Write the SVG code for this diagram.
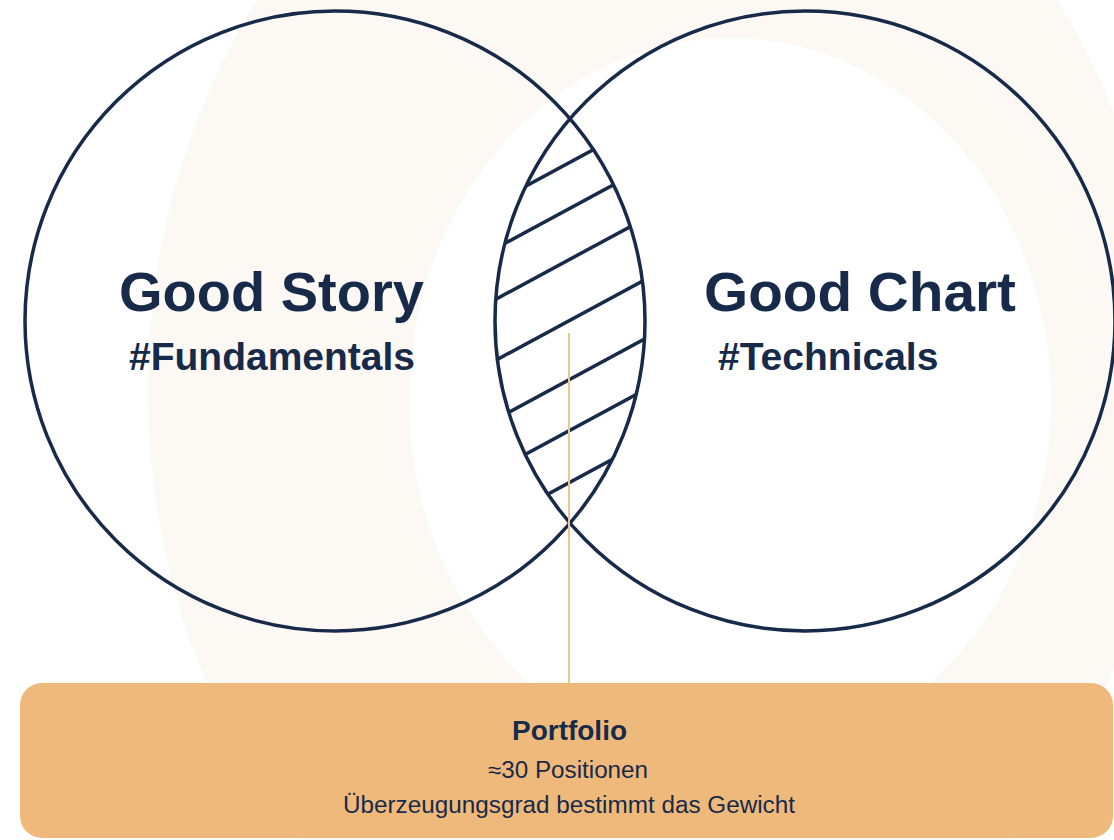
<svg xmlns="http://www.w3.org/2000/svg" width="1114" height="840" viewBox="0 0 1114 840">
  <defs>
    <style>
      .ring { fill: none; stroke: #172a4a; stroke-width: 3.5; }
      .hatch { stroke: #172a4a; stroke-width: 3.5; fill: none; }
      .title { font-family: "Liberation Sans", Arial, sans-serif; font-weight: bold; font-size: 56px; fill: #172a4a; }
      .tag { font-family: "Liberation Sans", Arial, sans-serif; font-weight: bold; font-size: 39px; fill: #172a4a; }
      .boxhead { font-family: "Liberation Sans", Arial, sans-serif; font-weight: bold; font-size: 27px; fill: #172a4a; text-anchor: middle; }
      .boxtext { font-family: "Liberation Sans", Arial, sans-serif; font-size: 23px; fill: #172a4a; text-anchor: middle; }
    </style>
    <clipPath id="clipL"><circle cx="335" cy="321" r="310"/></clipPath>
    <clipPath id="clipR"><circle cx="805" cy="321" r="310"/></clipPath>
  </defs>

  <rect x="0" y="0" width="1114" height="840" fill="#ffffff"/>

  <g id="background">
    <ellipse cx="657" cy="390" rx="509" ry="630" fill="#fcf8f4"/>
    <ellipse cx="730" cy="400" rx="321" ry="362" fill="#ffffff"/>
  </g>

  <g id="intersection">
    <g clip-path="url(#clipL)">
      <g clip-path="url(#clipR)">
        <line class="hatch" x1="480" y1="210.8" x2="660" y2="113.6"/>
        <line class="hatch" x1="480" y1="256.8" x2="660" y2="159.6"/>
        <line class="hatch" x1="480" y1="307.8" x2="660" y2="210.6"/>
        <line class="hatch" x1="480" y1="368.8" x2="660" y2="271.6"/>
        <line class="hatch" x1="480" y1="427.8" x2="660" y2="330.6"/>
        <line class="hatch" x1="480" y1="478.8" x2="660" y2="381.6"/>
        <line class="hatch" x1="480" y1="530.8" x2="660" y2="433.6"/>
      </g>
    </g>
  </g>

  <g id="node-good-story">
    <circle class="ring" cx="335" cy="321" r="310"/>
    <text class="title" x="119" y="311">Good Story</text>
    <text class="tag" x="129" y="370">#Fundamentals</text>
  </g>

  <g id="node-good-chart">
    <circle class="ring" cx="805" cy="321" r="310"/>
    <text class="title" x="704" y="311" textLength="312" lengthAdjust="spacingAndGlyphs">Good Chart</text>
    <text class="tag" x="718" y="370">#Technicals</text>
  </g>

  <g id="connectors">
    <line x1="569" y1="333" x2="569" y2="684" stroke="#efc58c" stroke-width="2"/>
  </g>

  <g id="node-portfolio">
    <rect x="20" y="683" width="1093" height="155" rx="22" ry="22" fill="#efb97b"/>
    <text class="boxhead" x="569.5" y="740" textLength="115" lengthAdjust="spacingAndGlyphs">Portfolio</text>
    <text class="boxtext" x="568" y="778" textLength="160" lengthAdjust="spacingAndGlyphs">≈30 Positionen</text>
    <text class="boxtext" x="569" y="813" textLength="452" lengthAdjust="spacingAndGlyphs">Überzeugungsgrad bestimmt das Gewicht</text>
  </g>
</svg>
